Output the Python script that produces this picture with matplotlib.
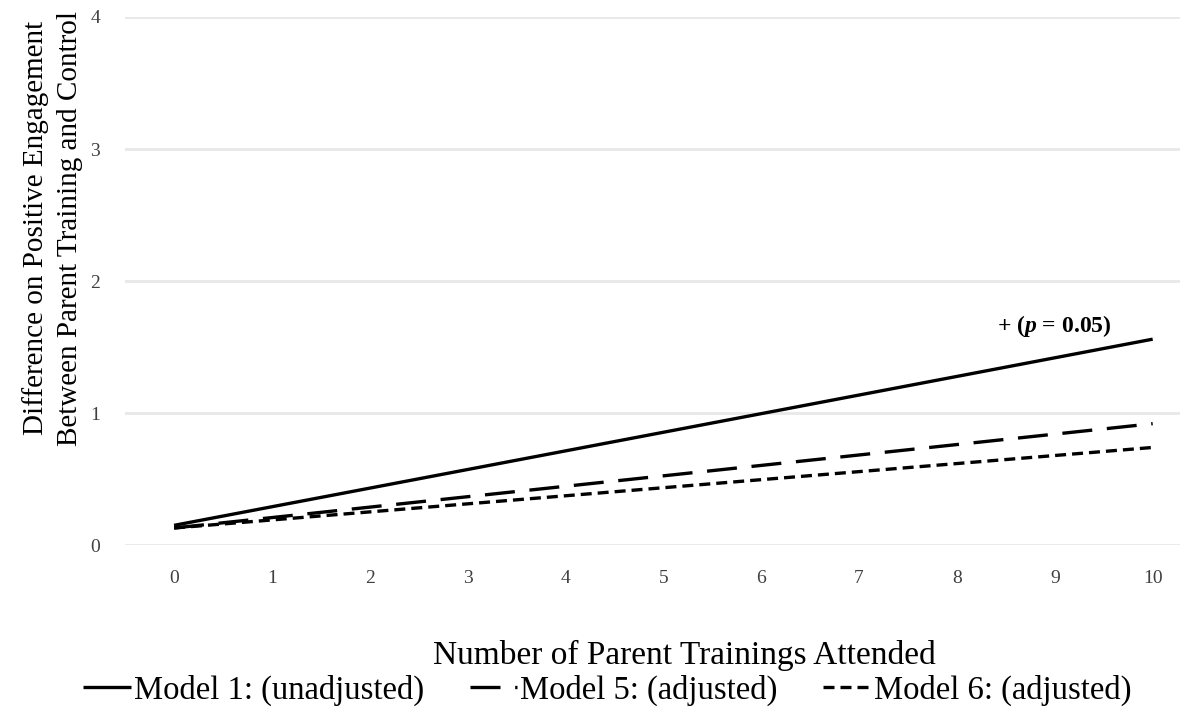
import matplotlib
matplotlib.use("Agg")
import matplotlib.pyplot as plt

# Predicted difference at 0 and 10 trainings attended
trainings = [0, 10]
model1 = [0.15, 1.56]
model5 = [0.13, 0.92]
model6 = [0.13, 0.74]
x_ticks = list(range(0, 11))
y_ticks = [0, 1, 2, 3, 4]

plt.rcParams["font.family"] = ["Liberation Serif", "DejaVu Serif"]
plt.rcParams["mathtext.fontset"] = "custom"
plt.rcParams["mathtext.rm"] = "Liberation Serif"
plt.rcParams["mathtext.bfit"] = "Liberation Serif:bold:italic"

fig = plt.figure(figsize=(11.92, 7.08), dpi=100)
ax = fig.add_axes([0.105, 0.230, 0.885, 0.746])

lw = 2.4
ax.plot(trainings, model1, color="black", lw=lw, solid_capstyle="butt",
        label="Model 1: (unadjusted)")
ax.plot(trainings, model5, color="black", lw=lw, dashes=(9, 4.4),
        label="Model 5: (adjusted)")
ax.plot(trainings, model6, color="black", lw=lw, dashes=(3.3, 1.8),
        label="Model 6: (adjusted)")

ax.annotate(r"+ ($\mathbfit{p}$ = 0.05)", xy=(trainings[-1], model1[-1]),
            xytext=(-71, 5), textcoords="offset points", ha="center", va="baseline",
            fontsize=17, fontweight="bold")

ax.set_xlim(-0.5, 10.28)
ax.set_ylim(0, 4)
ax.set_xticks(x_ticks)
ax.set_yticks(y_ticks)
ax.tick_params(length=0, labelsize=14, colors="#404040", pad=18)
ax.tick_params(axis="y", pad=18)
ax.grid(axis="y", color="#e8e8e8", lw=2)
ax.set_axisbelow(True)
for s in ax.spines.values():
    s.set_visible(False)

ax.set_ylabel("Difference on Positive Engagement\nBetween Parent Training and Control",
              fontsize=21, linespacing=1.4)
ax.yaxis.set_label_coords(-0.040, 0.60)
ax.set_xlabel("Number of Parent Trainings Attended", fontsize=24)
ax.xaxis.set_label_coords(0.53, -0.18)

leg = ax.legend(loc="center", bbox_to_anchor=(0.457, -0.275), ncol=3, frameon=False,
                fontsize=23.5, handlelength=1.45, handletextpad=0.1,
                columnspacing=1.4, borderaxespad=0)

fig.savefig("out.png", dpi=100)
